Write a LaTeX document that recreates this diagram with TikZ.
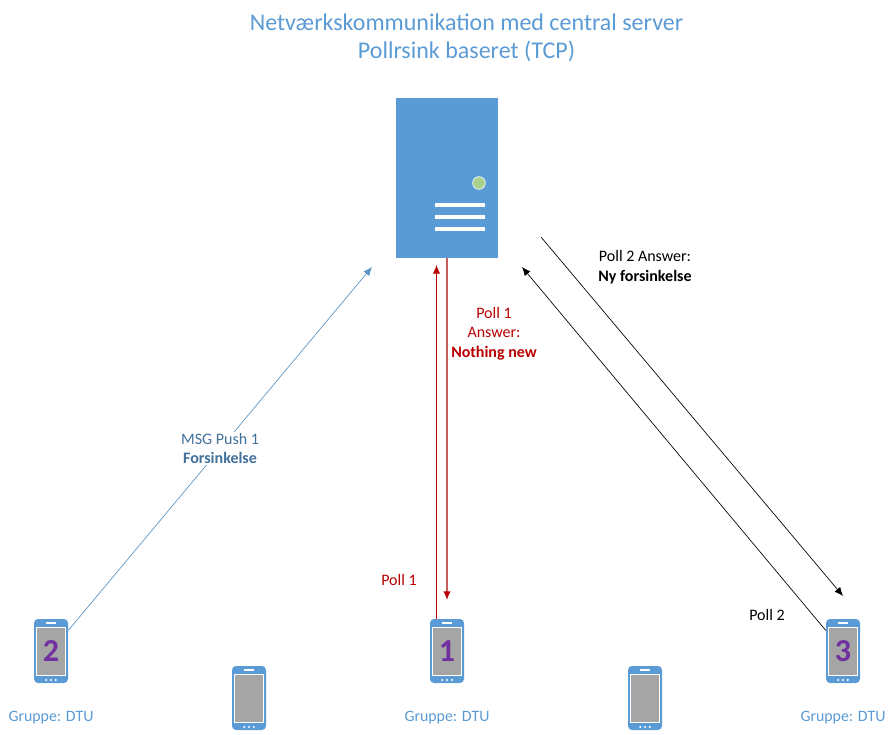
\documentclass[tikz,border=0pt]{standalone}
\usepackage{fontspec}
\setmainfont{Carlito}
\usetikzlibrary{arrows.meta}
\definecolor{officeblue}{HTML}{5B9BD5}
\definecolor{pushblue}{HTML}{41719C}
\definecolor{pushline}{HTML}{5A93C6}
\definecolor{pollred}{HTML}{B80000}
\definecolor{answerred}{HTML}{CB5C5C}
\definecolor{screengray}{HTML}{A5A5A5}
\definecolor{ledgreen}{HTML}{A9D18E}
\definecolor{numpurple}{HTML}{7030A0}
\tikzset{
  phone/.style={fill=officeblue,rounded corners=3pt,minimum width=25.5pt,minimum height=48pt,inner sep=0pt},
  screen/.style={fill=screengray,draw=white,line width=.6pt,minimum width=22pt,minimum height=36.5pt,inner sep=0pt,
    font=\fontsize{24}{24}\selectfont\bfseries,text=numpurple},
  bar/.style={fill=white,minimum width=37.5pt,minimum height=3pt,inner sep=0pt},
  group/.style={text=officeblue,font=\fontsize{11.9}{14}\selectfont,node distance=49.8pt},
  msg/.style={font=\fontsize{12}{14.6}\selectfont,align=center},
  wire/.style={-{Latex[length=6.5pt,width=5.5pt]},line width=.5pt}
}
% screen, speaker and dots on top of a phone
\newcommand{\phoneface}[2]{
  \node[screen] at ([yshift=-.3pt]#1) {#2};
  \fill[white] ([xshift=-3.75pt,yshift=20.6pt]#1) rectangle ([xshift=3.75pt,yshift=21.4pt]#1);
  \foreach \dx in {-3.6,0,3.6}
    \fill[white] ([xshift=\dx pt,yshift=-21.7pt]#1) circle (.85pt);
}
\begin{document}
\begin{tikzpicture}[x=.75pt,y=-.75pt,node distance=297pt]
  \useasboundingbox (0,0) rectangle (894,735);
  \node (title) [text=officeblue,font=\fontsize{18}{21}\selectfont,align=center] at (466.5,38)
    {Netværkskommunikation med central server\\Pollrsink baseret (TCP)};
  % server
  \node (server) [fill=officeblue,minimum width=76.5pt,minimum height=120pt,inner sep=0pt] at (447,178) {};
  \node (led) [circle,fill=ledgreen,draw=white,line width=.5pt,minimum size=9.5pt,inner sep=0pt] at (479,183) {};
  \node (barA) [bar] at (460,205) {};
  \node (barB) [bar] at (460,217) {};
  \node (barC) [bar] at (460,229) {};
  % phones
  \node (phoneOne)   [phone] at (447,651) {};
  \node (phoneTwo)   [phone,left of=phoneOne] {};
  \node (phoneThree) [phone,right of=phoneOne] {};
  \node (phoneLeft)  [phone] at (249,698) {};
  \node (phoneRight) [phone] at (645,698) {};
  \phoneface{phoneOne}{1}
  \phoneface{phoneTwo}{2}
  \phoneface{phoneThree}{3}
  \phoneface{phoneLeft}{}
  \phoneface{phoneRight}{}
  \node (groupOne)   [group,below of=phoneOne]   {Gruppe: DTU};
  \node (groupTwo)   [group,below of=phoneTwo]   {Gruppe: DTU};
  \node (groupThree) [group,below of=phoneThree] {Gruppe: DTU};
  % free arrow ends
  \coordinate (pushEnd)    at (372,267);
  \coordinate (pollFrom)   at (436.5,619);
  \coordinate (pollEnd)    at (436.5,265);
  \coordinate (answerEnd)  at (447,600);
  \coordinate (pollTwoEnd) at (522,267);
  \coordinate (ansTwoFrom) at (541,237);
  \coordinate (ansTwoEnd)  at (843,596);
  \draw[wire,pushline]  (phoneTwo.50) -- (pushEnd);
  \draw[wire,pollred,line width=.7pt] (pollFrom) -- (pollEnd);
  \draw[wire,answerred,line width=.9pt,-{Latex[length=6.5pt,width=5.5pt,pollred]}] (server.south) -- (answerEnd);
  \path[wire,black]
    (phoneThree.130) edge (pollTwoEnd)
    (ansTwoFrom)     edge (ansTwoEnd);
  % labels
  \node (pushLabel) [msg,text=pushblue,fill=white,inner sep=1pt] at (220,448.5) {MSG Push 1\\\textbf{Forsinkelse}};
  \node (pollOne)   [msg,text=pollred] at (399,580) {Poll 1};
  \node (ansOne)    [msg,text=pollred] at (494,333.5) {Poll 1\\Answer:\\\textbf{Nothing new}};
  \node (pollTwo)   [msg] at (767,615) {Poll 2};
  \node (ansTwo)    [msg] at (645,267) {Poll 2 Answer:\\\textbf{Ny forsinkelse}};
\end{tikzpicture}
\end{document}
